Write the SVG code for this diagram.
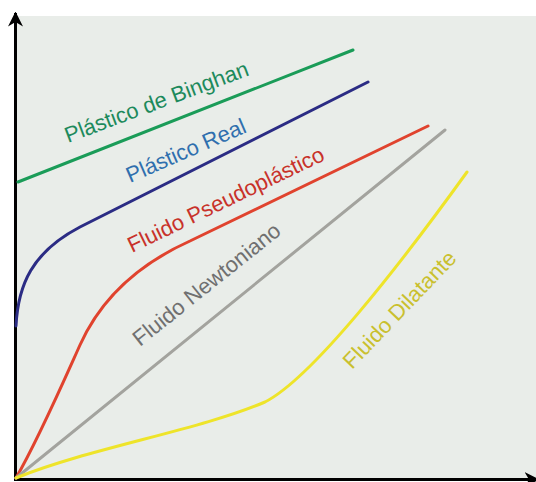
<svg xmlns="http://www.w3.org/2000/svg" width="536" height="482" viewBox="0 0 536 482">
<style>
.c{fill:none;stroke-width:3;stroke-linecap:round}
.t{font-family:"Liberation Sans",Arial,sans-serif;font-size:22px}
.ax{stroke:#000;stroke-width:3;fill:none}
</style>
<defs>
<marker id="ah" viewBox="0 0 10 10" refX="9" refY="5" markerWidth="5" markerHeight="5" orient="auto" markerUnits="strokeWidth">
<path d="M0,0 L10,5 L0,10 L3,5 Z" fill="#000"/>
</marker>
</defs>
<rect width="536" height="482" fill="#fff"/>
<rect x="16" y="16" width="520" height="463" fill="#e9ede9"/>
<g id="connectors">
<path class="ax" d="M15.5,481 L15.5,13" marker-end="url(#ah)"/>
<path class="ax" d="M14,479.5 L538,479.5" marker-end="url(#ah)"/>
</g>
<g id="bingham">
<path class="c" stroke="#1a9c58" d="M18,182 L353,50"/>
<text class="t" fill="#1d8a5c" transform="translate(68,143) rotate(-20.5)">Plástico de Binghan</text>
</g>
<g id="real">
<path class="c" stroke="#2b2c84" d="M16,326 C18,285 32,252 80,227 L368,82"/>
<text class="t" fill="#2f6fae" transform="translate(130,183) rotate(-23.5)">Plástico Real</text>
</g>
<g id="pseudo">
<path class="c" stroke="#e0432e" d="M16,478 C38,440 62,385 80,345 C98,305 130,268 190,241 L428,126"/>
<text class="t" fill="#c8322a" transform="translate(132,253) rotate(-25.7)">Fluido Pseudoplástico</text>
</g>
<g id="newton">
<path class="c" stroke="#a3a39e" d="M16,478 L445,130"/>
<text class="t" fill="#707070" transform="translate(140,347) rotate(-38.6)">Fluido Newtoniano</text>
</g>
<g id="dilatante">
<path class="c" stroke="#eee42a" d="M16,478 C90,448 200,430 265,402 C312,378 400,265 467,172"/>
<text class="t" fill="#c9c02e" transform="translate(352,370) rotate(-46.3)">Fluido Dilatante</text>
</g>
</svg>
